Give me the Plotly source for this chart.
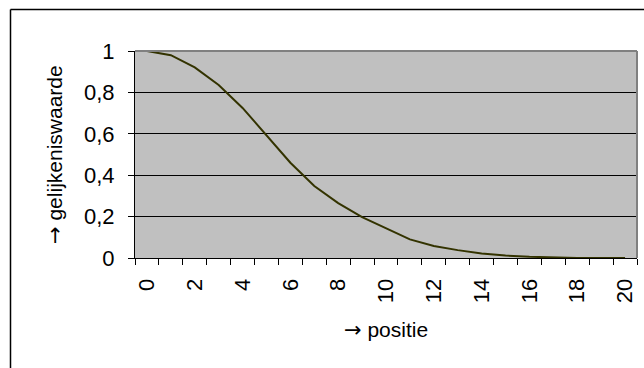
import plotly.graph_objects as go

positie = list(range(21))
gelijkeniswaarde = [1.0, 0.98, 0.921, 0.836, 0.725, 0.59, 0.46, 0.348, 0.265, 0.197,
                    0.143, 0.09, 0.058, 0.038, 0.022, 0.012, 0.006, 0.002, 0.0, 0.0, 0.0]
x_ticks = list(range(0, 21, 2))
y_ticks = [0, 0.2, 0.4, 0.6, 0.8, 1]
y_ticktext = ["0", "0,2", "0,4", "0,6", "0,8", "1"]

W, H = 644, 368
L, R, T, B = 135, 637, 51, 258

def px(x):
    return (x - L) / (R - L)

def py(y):
    return (B - y) / (B - T)

fig = go.Figure()
fig.add_trace(go.Scatter(x=positie, y=gelijkeniswaarde, mode="lines",
                         line=dict(color="#333300", width=2), hoverinfo="skip"))

FAM = "Liberation Sans, Arial, sans-serif"
font = dict(family=FAM, size=22, color="black")
ARROW = '<span style="font-family:DejaVu Sans">→</span>'

fig.update_layout(
    width=W, height=H,
    margin=dict(l=L, r=W - R, t=T, b=H - B),
    paper_bgcolor="white", plot_bgcolor="#c0c0c0",
    showlegend=False, font=font,
    xaxis=dict(range=[-0.5, 20.5], tickmode="array", tickvals=x_ticks,
               ticktext=[str(v) for v in x_ticks], tickangle=-90, ticks="",
               showgrid=False, zeroline=False, showline=True, linecolor="black",
               linewidth=1, ticklabelstandoff=11, tickfont=font,
               minor=dict(tickmode="array", tickvals=[i - 0.5 for i in range(22)],
                          ticks="outside", ticklen=6, tickcolor="black", tickwidth=1,
                          showgrid=False)),
    yaxis=dict(range=[0, 1], tickmode="array", tickvals=y_ticks, ticktext=y_ticktext,
               ticks="outside", ticklen=6, tickcolor="black", showgrid=True,
               gridcolor="black", gridwidth=1, zeroline=False, showline=True,
               linecolor="black", linewidth=1, ticklabelstandoff=9, tickfont=font),
)

shapes = [
    dict(type="line", xref="paper", yref="paper", x0=0, x1=1, y0=1, y1=1,
         line=dict(color="#808080", width=2)),
    dict(type="line", xref="paper", yref="paper", x0=1, x1=1, y0=0, y1=1,
         line=dict(color="#808080", width=2)),
    dict(type="line", xref="paper", yref="paper", x0=px(10.5), x1=px(W + 20),
         y0=py(9.5), y1=py(9.5), line=dict(color="black", width=1.5)),
    dict(type="line", xref="paper", yref="paper", x0=px(10.5), x1=px(10.5),
         y0=py(H + 20), y1=py(9.5), line=dict(color="black", width=1.5)),
]
fig.update_layout(shapes=shapes)

tfont = dict(family=FAM, size=21, color="black")
fig.add_annotation(text=ARROW + " positie", xref="paper", yref="paper", x=px(386),
                   y=py(330), showarrow=False, font=tfont,
                   xanchor="center", yanchor="middle")
fig.add_annotation(text=ARROW + " gelijkeniswaarde", xref="paper", yref="paper",
                   x=px(55), y=py(155), showarrow=False, textangle=-90, font=tfont,
                   xanchor="center", yanchor="middle")

fig.write_html("out.html")
